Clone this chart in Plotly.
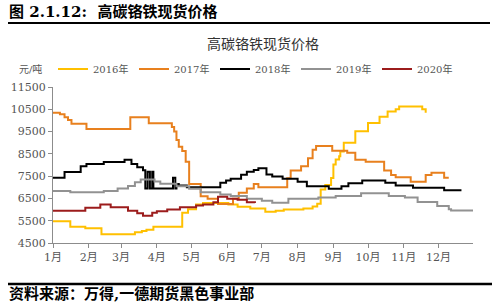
import plotly.graph_objects as go

# ---- data (month-day, value in 元/吨) ----
d2016 = ["01-01","01-16","01-29","02-12","03-13","03-19","03-23","03-29","04-23","04-28","05-05","05-11",
         "06-02","06-10","06-21","07-04","07-13","07-20","08-06","08-14","08-18","08-21","08-25","08-30",
         "09-01","09-03","09-06","09-07","09-10","09-20","10-01","10-11","10-18","10-25","10-28","11-13",
         "11-17","11-20"]
v2016 = [5480,5230,5160,4890,4980,5040,5100,5230,5860,6010,6230,6300,
         6230,6130,6050,5900,5950,6000,6050,6140,6260,6900,7100,7420,
         8020,8250,8390,8610,9000,9510,9880,10170,10400,10500,10620,10620,
         10500,10350]

d2017 = ["01-01","01-07","01-11","01-14","01-17","01-30","03-09","03-25","04-14","04-16","04-18","04-20",
         "04-23","04-26","04-29","05-09","05-15","05-24","06-06","06-11","06-18","06-24","06-28","07-23",
         "07-26","08-04","08-10","08-14","08-17","08-31","09-13","09-20","09-29","10-15","10-21","10-25",
         "11-07","11-20","11-25","12-06","12-10"]
v2017 = [10350,10280,10140,10020,9850,9620,10140,9870,9700,9500,9120,8820,
         8630,8150,7150,6600,6480,6250,6480,6750,6950,7150,7000,7400,
         7750,7940,8300,8680,8850,8640,8550,8230,8150,7750,7550,7450,
         7250,7550,7650,7430,7430]

d2018 = ["01-01","01-11","01-25","01-30","02-14","03-04","03-10","03-15","03-20","03-22","03-24","03-26",
         "03-28","03-29","04-04","04-15","04-17","04-18","04-20","04-27","05-26","05-31","06-04","06-13",
         "06-18","06-24","06-28","07-05","07-10","07-19","08-01","08-09","08-28","09-08","09-14","09-26",
         "10-16","10-25","11-09","12-06","12-21"]
v2018 = [7430,7690,7940,8050,8140,8240,8050,7900,7760,6950,7700,6950,
         7700,6950,6950,7430,6950,7150,7080,7000,7200,7300,7380,7560,
         7700,7780,7850,7570,7480,7380,7250,7050,6930,7050,7180,7300,
         7200,7080,6980,6870,6870]

d2019 = ["01-01","01-16","02-14","02-26","03-07","03-13","03-18","03-30","04-04","04-18","04-29","05-09",
         "05-26","06-04","06-18","07-01","07-10","07-24","08-19","09-03","09-25","10-19","11-02","11-13",
         "11-30","12-10","12-12","12-31"]
v2019 = [6830,6780,6830,6940,7060,7230,7350,7260,7160,7050,6930,6780,
         6680,6610,6490,6400,6310,6490,6540,6610,6730,6610,6540,6340,
         6160,6010,5960,5960]

d2020 = ["01-01","01-29","02-11","02-20","03-07","03-15","03-20","03-28","04-01","04-10","04-21","05-05",
         "05-11","05-20","05-24","06-01","06-10","06-18","06-25"]
v2020 = [5950,6080,6230,6100,5950,5830,5720,5860,5930,6000,6100,6180,
         6230,6330,6570,6480,6440,6330,6290]

series = [("2016年", d2016, v2016, "#FFC000"),
          ("2017年", d2017, v2017, "#E8801E"),
          ("2018年", d2018, v2018, "#000000"),
          ("2019年", d2019, v2019, "#929292"),
          ("2020年", d2020, v2020, "#9C1C1C")]

month_starts = ["2021-%02d-01" % m for m in range(1, 13)]
month_labels = ["%d月" % m for m in range(1, 13)]

fig = go.Figure()
for name, d, v, c in series:
    fig.add_trace(go.Scatter(x=["2021-" + s for s in d], y=v, name=name, mode="lines",
                             line=dict(color=c, width=2, shape="hv")))

FONT = "DejaVu Serif, Noto Sans CJK SC"
fig.update_layout(
    width=500, height=304,
    margin=dict(l=53, r=27, t=87, b=61),
    paper_bgcolor="white", plot_bgcolor="white",
    showlegend=True,
    legend=dict(orientation="h", x=0.0, xanchor="left", y=1.115, yanchor="middle",
                font=dict(family=FONT, size=10, color="#555555"),
                entrywidth=36, entrywidthmode="pixels", itemwidth=30,
                bgcolor="rgba(0,0,0,0)", tracegroupgap=0),
    xaxis=dict(type="date", range=["2021-01-01", "2021-12-31"], tickvals=month_starts,
               ticktext=month_labels, showgrid=False, showline=True, linecolor="#8c8c8c",
               linewidth=1, ticks="outside", ticklen=4, tickcolor="#8c8c8c",
               tickfont=dict(family=FONT, size=11, color="#555555"), zeroline=False),
    yaxis=dict(range=[4500, 11500], tick0=4500, dtick=1000, tickformat="d", showgrid=False,
               showline=True, linecolor="#8c8c8c", linewidth=1, ticks="outside", ticklen=4,
               tickcolor="#8c8c8c", tickfont=dict(family=FONT, size=11, color="#555555"),
               zeroline=False),
)

fig.add_annotation(text="<b>图 2.1.12:  高碳铬铁现货价格</b>", xref="paper", yref="paper",
                   x=-53/420, y=(243-12)/156, xanchor="left", yanchor="middle", showarrow=False,
                   xshift=7, font=dict(family=FONT, size=15, color="#000000"))
fig.add_annotation(text="高碳铬铁现货价格", xref="paper", yref="paper",
                   x=(263-53)/420, y=(243-44)/156, xanchor="center", yanchor="middle", showarrow=False,
                   font=dict(family=FONT, size=14, color="#333333"))
fig.add_annotation(text="元/吨", xref="paper", yref="paper",
                   x=(17-53)/420, y=(243-69)/156, xanchor="left", yanchor="middle", showarrow=False,
                   font=dict(family=FONT, size=10, color="#555555"))
fig.add_annotation(text="<b>资料来源：万得,一德期货黑色事业部</b>", xref="paper", yref="paper",
                   x=(7-53)/420, y=(243-294)/156, xanchor="left", yanchor="middle", showarrow=False,
                   font=dict(family=FONT, size=15, color="#000000"))
fig.add_shape(type="line", xref="paper", yref="paper", x0=(8-53)/420, x1=(490-53)/420,
              y0=(243-23)/156, y1=(243-23)/156, line=dict(color="black", width=2))
fig.add_shape(type="line", xref="paper", yref="paper", x0=(8-53)/420, x1=(492-53)/420,
              y0=(243-284)/156, y1=(243-284)/156, line=dict(color="black", width=2.5))

fig.write_html("out.html")
